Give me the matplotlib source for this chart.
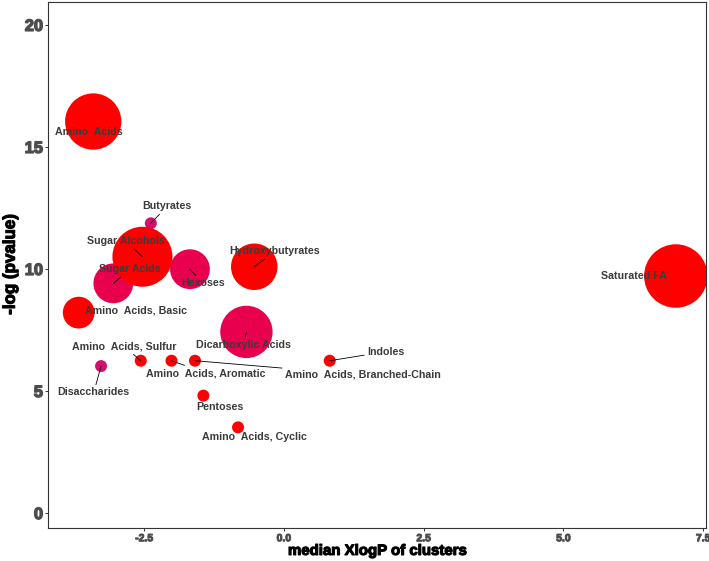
import matplotlib
matplotlib.use("Agg")
import matplotlib.pyplot as plt
import matplotlib.patheffects as pe
import numpy as np

# ---- data ----
clusters = ["Amino  Acids", "Butyrates", "Sugar Acids", "Sugar Alcohols", "Hexoses",
            "Hydroxybutyrates", "Amino  Acids, Basic", "Dicarboxylic Acids",
            "Amino  Acids, Sulfur", "Amino  Acids, Aromatic", "Amino  Acids, Branched-Chain",
            "Indoles", "Disaccharides", "Pentoses", "Amino  Acids, Cyclic", "Saturated FA"]
median_xlogp = [-3.41, -2.38, -3.05, -2.53, -1.68, -0.53, -3.67, -0.67,
                -2.56, -2.01, -1.59, 0.82, -3.27, -1.44, -0.82, 7.01]
neg_log_p = [16.04, 11.87, 9.41, 10.50, 9.99, 10.09, 8.21, 7.42,
             6.24, 6.24, 6.24, 6.24, 6.02, 4.81, 3.51, 9.71]
cluster_size = [22, 1, 11, 25, 11, 15, 7, 19, 1, 1, 1, 1, 1, 1, 1, 28]
# share of increased compounds (colour scale)
up_ratio = [1.0, 0.6, 0.8, 1.0, 0.8, 1.0, 1.0, 0.8, 1.0, 1.0, 1.0, 1.0, 0.6, 1.0, 1.0, 1.0]

xticks = [-2.5, 0.0, 2.5, 5.0, 7.5]
xtick_labels = ["-2.5", "0.0", "2.5", "5.0", "7.5"]
yticks = [0, 5, 10, 15, 20]

# ---- label placement (repelled label positions, data coords) ----
label_pos = [(-3.49, 15.60), (-2.09, 12.56), (-2.75, 9.99), (-2.83, 11.14), (-1.45, 9.42),
             (-0.16, 10.72), (-2.65, 8.31), (-0.72, 6.89),
             (-2.85, 6.82), (-1.39, 5.73), (1.41, 5.66),
             (1.82, 6.61), (-3.40, 4.94), (-1.14, 4.34), (-0.52, 3.11), (6.26, 9.73)]
has_segment = [False, True, True, True, True, True, False, True,
               True, True, True, True, True, False, False, False]

def ratio_color(r):
    c = {1.0: "#FF0000", 0.8: "#E8004E", 0.6: "#D4106E"}
    return c[r]

FAM = ["Liberation Sans", "DejaVu Sans"]

fig = plt.figure(figsize=(7.09, 5.61), dpi=100)
ax = fig.add_axes([0.0684, 0.0594, 0.9958 - 0.0684, 0.997 - 0.0594])

sizes = [74.65 * n for n in cluster_size]
cols = [ratio_color(r) for r in up_ratio]
ax.scatter(median_xlogp, neg_log_p, s=sizes, c=cols, linewidths=0, zorder=2)

for name, x, y, (tx, ty), seg in zip(clusters, median_xlogp, neg_log_p, label_pos, has_segment):
    kw = {}
    if seg:
        kw["arrowprops"] = dict(arrowstyle="-", color="black", lw=0.6,
                                shrinkA=0, shrinkB=0)
    ax.annotate(name, xy=(x, y), xytext=(tx, ty), textcoords="data",
                ha="center", va="center", fontsize=7.7, fontweight="bold",
                family=FAM, color="#3b3b3b", zorder=4, **kw)

ax.set_xlim(-4.21, 7.55)
ax.set_ylim(-0.60, 20.95)
ax.set_xticks(xticks)
ax.set_xticklabels(xtick_labels)
ax.set_yticks(yticks)

heavy_gray = [pe.withStroke(linewidth=0.7, foreground="#4d4d4d")]
heavy_black = [pe.withStroke(linewidth=0.8, foreground="black")]

for lab in ax.get_xticklabels():
    lab.set_fontsize(7.5)
    lab.set_fontweight("bold")
    lab.set_family(FAM)
    lab.set_color("#4d4d4d")
    lab.set_path_effects(heavy_gray)
for lab in ax.get_yticklabels():
    lab.set_fontsize(11.8)
    lab.set_fontweight("bold")
    lab.set_family(FAM)
    lab.set_color("#4d4d4d")
    lab.set_path_effects([pe.withStroke(linewidth=1.0, foreground="#4d4d4d")])

ax.tick_params(axis="both", length=2.5, width=0.7, color="#333333", pad=1.5)
for sp in ax.spines.values():
    sp.set_color("#333333")
    sp.set_linewidth(0.8)

xl = ax.set_xlabel("median XlogP of clusters", fontsize=10.8, fontweight="bold",
                   family=FAM, color="black", labelpad=0.5)
xl.set_path_effects(heavy_black)
yl = ax.set_ylabel("-log (pvalue)", fontsize=12.2, fontweight="bold",
                   family=FAM, color="black", labelpad=5)
yl.set_path_effects(heavy_black)

fig.savefig("out.png", dpi=100)
